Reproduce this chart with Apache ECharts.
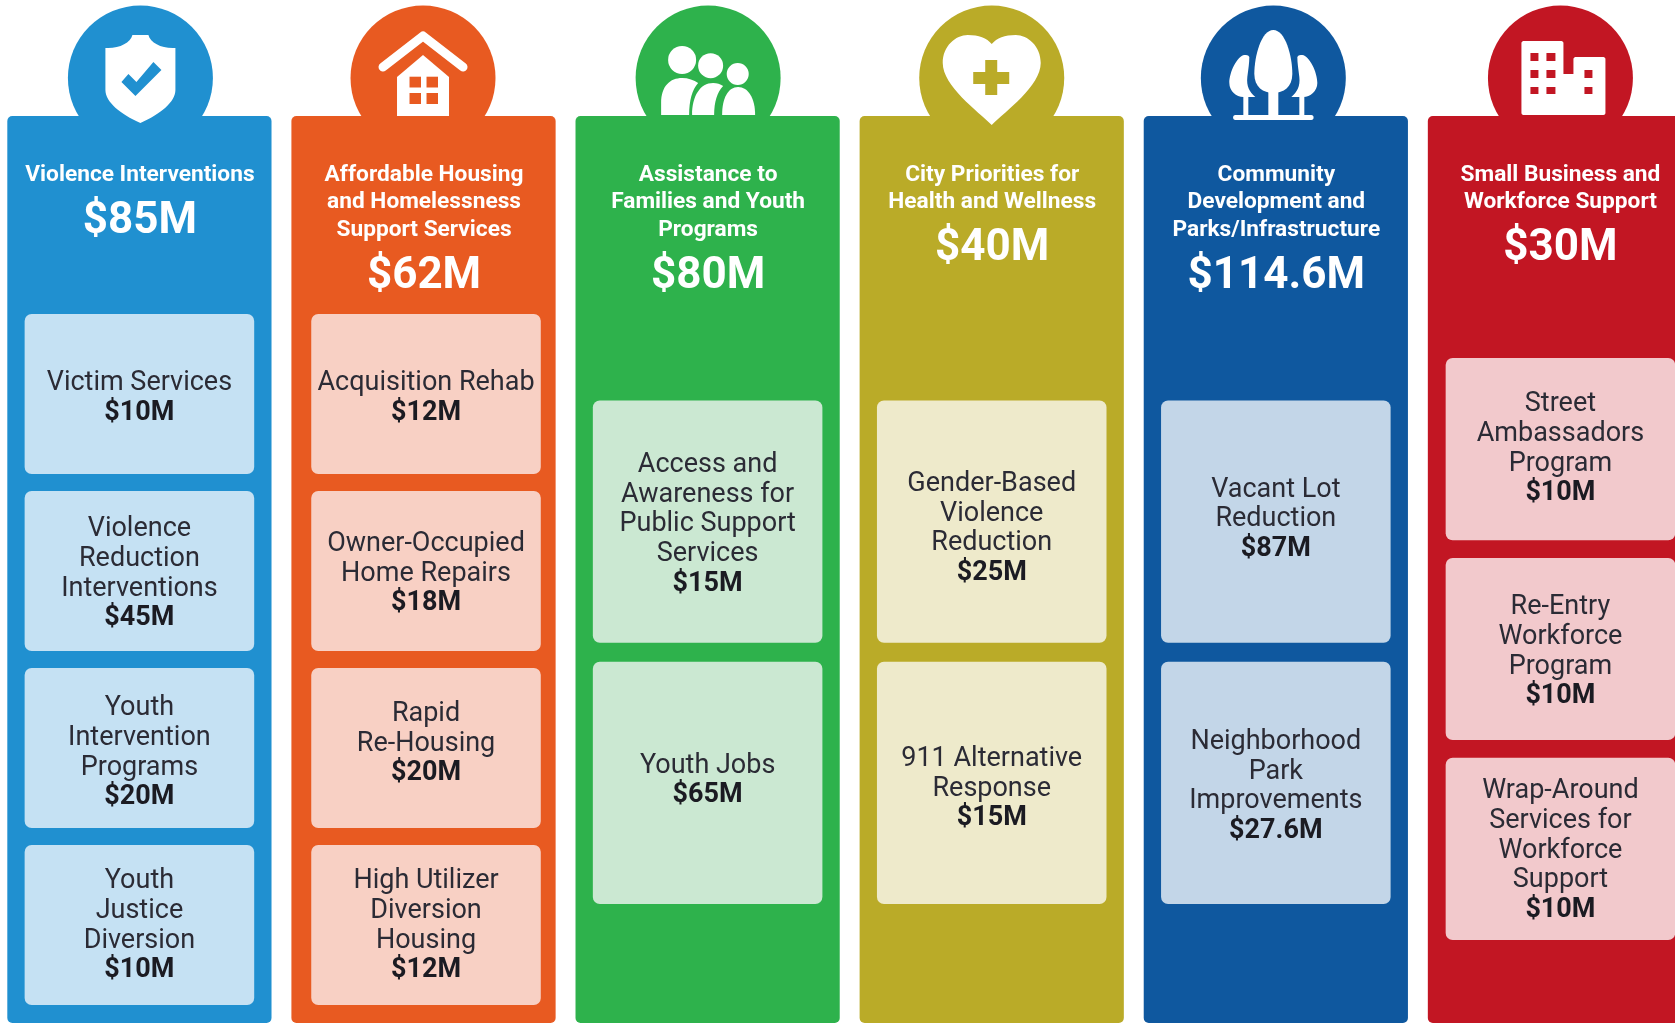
<!DOCTYPE html>
<html>
<head>
<meta charset="utf-8">
<title>Funding by priority area</title>
<script src="https://cdn.jsdelivr.net/npm/echarts@6/dist/echarts.min.js"></script>
<style>
  html, body { margin: 0; padding: 0; background: #fff; }
  #chart { width: 1675px; height: 1024px; }
</style>
</head>
<body>
<div id="chart"></div>
<script>
// data
const categories = [
  "Violence Interventions",
  "Affordable Housing\nand Homelessness\nSupport Services",
  "Assistance to\nFamilies and Youth\nPrograms",
  "City Priorities for\nHealth and Wellness",
  "Community\nDevelopment and\nParks/Infrastructure",
  "Small Business and\nWorkforce Support",
];
const totals = [85, 62, 80, 40, 114.6, 30];

const violenceLabels = ["Victim Services", "Violence\nReduction\nInterventions", "Youth\nIntervention\nPrograms", "Youth\nJustice\nDiversion"];
const violenceValues = [10, 45, 20, 10];
const housingLabels = ["Acquisition Rehab", "Owner-Occupied\nHome Repairs", "Rapid\nRe-Housing", "High Utilizer\nDiversion\nHousing"];
const housingValues = [12, 18, 20, 12];
const familiesLabels = ["Access and\nAwareness for\nPublic Support\nServices", "Youth Jobs"];
const familiesValues = [15, 65];
const healthLabels = ["Gender-Based\nViolence\nReduction", "911 Alternative\nResponse"];
const healthValues = [25, 15];
const communityLabels = ["Vacant Lot\nReduction", "Neighborhood\nPark\nImprovements"];
const communityValues = [87, 27.6];
const businessLabels = ["Street\nAmbassadors\nProgram", "Re-Entry\nWorkforce\nProgram", "Wrap-Around\nServices for\nWorkforce\nSupport"];
const businessValues = [10, 10, 10];

const cardLabels = [violenceLabels, housingLabels, familiesLabels, healthLabels, communityLabels, businessLabels];
const cardValues = [violenceValues, housingValues, familiesValues, healthValues, communityValues, businessValues];

// styles
const panelColors = ["#2090d0", "#e85a21", "#2eb24c", "#baab28", "#0f589f", "#c21623"];
const cardColors = ["#c5e1f3", "#f8d0c4", "#cbe8d2", "#eeeacb", "#c3d6e8", "#f2c9cc"];
const FONT = "Roboto, sans-serif";
const circleNudge = [1, -0.5, 0.5, 0, -2.5, 0.5];
const cardNudge = [0, 2.5, 0, 0, 0, 0.5];
// text in the cards is not quite centred in the original
const cardTextNudge = [[4, 3, 5, 1], [4, 3, -4, 1], [3, -2], [7, 6], [-2, 4], [0, 3, 2]];

// card stack extent on the y axis, by how many cards a column holds
const stacks = {
  2: { top: 400.5, bottom: 904, gap: 19 },
  3: { top: 358, bottom: 940, gap: 17.7 },
  4: { top: 314, bottom: 1005, gap: 17 },
};

// icon parts, drawn around the circle centre. "c" = panel colour, "w" = white
function rect(x0, y0, x1, y1) {
  return `M${x0},${y0}L${x1},${y0}L${x1},${y1}L${x0},${y1}Z`;
}
function dot(x, y, r) {
  return `M${x - r},${y}A${r},${r},0,1,1,${x + r},${y}A${r},${r},0,1,1,${x - r},${y}Z`;
}
const icons = [
  [
    ["w", "M-8,-43L8,-43C10,-35 22,-29 35,-30L35,12C35,24 20,36 0,45C-20,36 -35,24 -35,12L-35,-30C-22,-29 -10,-35 -8,-43Z"],
    ["c", "M-19,4L-12,-4L-4,4L13,-16L21,-8L-5,18Z"],
  ],
  [
    ["line", "M-40,-11L0,-42L40,-11"],
    ["w", "M0,-23L26,-1L26,38L-26,38L-26,-1Z"],
    ["c", rect(-13.5, -1.3, -2, 9.5)],
    ["c", rect(3.5, -1.3, 15, 9.5)],
    ["c", rect(-13.5, 15, -2, 26)],
    ["c", rect(3.5, 15, 15, 26)],
  ],
  [
    ["w", dot(-26, -18, 14)],
    ["w", dot(2.5, -12.3, 12.5)],
    ["w", dot(29.6, -4, 11)],
    ["w", "M-47,37L-47,25C-47,8 -38,0 -26,0C-20,0 -14,2 -10,5C-16,12 -19,22 -19,37Z"],
    ["w", "M-16,37C-16,18 -8,5 5,5C9,5 12,6 15,8C9,14 6,24 6,37Z"],
    ["w", "M14,37C14,20 20,9 30,9C40,9 47,20 47,37Z"],
  ],
  [
    ["w", "M0,47C-14,33 -49,8 -49,-15C-49,-32 -36,-43 -24,-43C-13,-43 -5,-40 0,-34C5,-40 13,-43 24,-43C36,-43 49,-32 49,-15C49,8 14,33 0,47Z"],
    ["c", "M-6.5,-18L5.5,-18L5.5,-6L17.5,-6L17.5,6L5.5,6L5.5,17L-6.5,17L-6.5,6L-18.5,6L-18.5,-6L-6.5,-6Z"],
  ],
  [
    ["w", "M0,-48C12,-48 19,-22 19,-4C19,9 10,15 0,15C-10,15 -19,9 -19,-4C-19,-22 -12,-48 0,-48Z"],
    ["w", "M-29,-23C-36,-22 -44,-6 -44,5C-44,13 -37,19 -30,19L-18,19C-24,14 -27,8 -26,-1C-25,-9 -24,-15 -24,-21C-25,-23 -27,-23 -29,-23Z"],
    ["w", "M29,-23C36,-22 44,-6 44,5C44,13 37,19 30,19L18,19C24,14 27,8 26,-1C25,-9 24,-15 24,-21C25,-23 27,-23 29,-23Z"],
    ["w", rect(-5, 10, 5, 38)],
    ["w", rect(-30, 15, -25, 38)],
    ["w", rect(26, 15, 31, 38)],
    ["w", "M-38,37L38,37C41,37 41,42 38,42L-38,42C-41,42 -41,37 -38,37Z"],
  ],
  [
    ["w", "M-37,-37L1,-37C2,-37 3,-36 3,-35L3,-4L13,-4L13,-19C13,-20 14,-21 15,-21L43,-21C44,-21 45,-20 45,-19L45,35C45,36 44,37 43,37L-37,37C-38,37 -39,36 -39,35L-39,-35C-39,-36 -38,-37 -37,-37Z"],
    ["c", rect(-30, -25, -22, -17)], ["c", rect(-14, -25, -5, -17)],
    ["c", rect(-30, -8, -22, 0)], ["c", rect(-14, -8, -5, 0)],
    ["c", rect(-30, 9, -22, 16)], ["c", rect(-14, 9, -5, 16)],
    ["c", rect(24, -8, 32, 0)], ["c", rect(24, 9, 32, 16)],
  ],
];

const money = (v) => "$" + v + "M";

function textEl(str, x, y, size, weight, fill) {
  return {
    type: "text",
    style: {
      text: str,
      x: x,
      y: y,
      fill: fill,
      font: `${weight} ${size}px ${FONT}`,
      align: "center",
      verticalAlign: "middle",
    },
  };
}

function renderPanel(params, api) {
  const i = api.value(0);
  const cx = api.coord([i, 0])[0];
  const w = api.size([1, 0])[0] * 0.93;
  const top = api.coord([i, 116])[1];
  const bottom = api.coord([i, 1023])[1];
  const color = panelColors[i];
  const ccx = cx + circleNudge[i];
  const ccy = api.coord([i, 78])[1];

  const children = [
    { type: "circle", shape: { cx: ccx, cy: ccy, r: 72.5 }, style: { fill: color } },
    { type: "rect", shape: { x: cx - w / 2, y: top, width: w, height: bottom - top, r: 5 }, style: { fill: color } },
  ];
  icons[i].forEach((part) => {
    const isLine = part[0] === "line";
    children.push({
      type: "path",
      x: ccx,
      y: ccy,
      shape: { pathData: part[1] },
      style: isLine
        ? { fill: "none", stroke: "#fff", lineWidth: 9, lineCap: "round", lineJoin: "round" }
        : { fill: part[0] === "w" ? "#fff" : color },
    });
  });

  const lines = categories[i].split("\n");
  lines.forEach((line, k) => {
    const y = api.coord([i, 175 + 27.6 * k])[1];
    children.push(textEl(line, cx + 0.5, y, 22.7, 700, "#fff"));
  });
  const totalY = api.coord([i, 175 + 27.6 * (lines.length - 1) + 46.5])[1];
  children.push(textEl(money(api.value(1)), cx + 0.5, totalY, 44, 700, "#fff"));
  return { type: "group", children: children };
}

function renderCard(params, api) {
  const i = api.value(0);
  const j = api.value(1);
  const labels = cardLabels[i];
  const stack = stacks[labels.length];
  const h = (stack.bottom - stack.top - stack.gap * (labels.length - 1)) / labels.length;
  const yTop = stack.top + j * (h + stack.gap);
  const cx = api.coord([i, 0])[0] + cardNudge[i];
  const w = api.size([1, 0])[0] * 0.808;
  const y0 = api.coord([i, yTop])[1];
  const y1 = api.coord([i, yTop + h])[1];

  const children = [
    { type: "rect", shape: { x: cx - w / 2, y: y0, width: w, height: y1 - y0, r: 7 }, style: { fill: cardColors[i] } },
  ];
  const lines = labels[j].split("\n");
  const pitch = 29.7;
  const firstY = (y0 + y1) / 2 - (pitch * lines.length) / 2 + cardTextNudge[i][j];
  lines.forEach((line, k) => {
    children.push(textEl(line, cx, firstY + pitch * k, 27, 400, "#2b2b35"));
  });
  children.push(textEl(money(api.value(2)), cx, firstY + pitch * lines.length, 27, 700, "#1b1b22"));
  return { type: "group", children: children };
}

const panelData = totals.map((t, i) => [i, t]);
const cardData = [];
cardValues.forEach((vals, i) => {
  vals.forEach((v, j) => cardData.push([i, j, v]));
});

const chart = echarts.init(document.getElementById("chart"), null, { renderer: "canvas" });
chart.setOption({
  backgroundColor: "#fff",
  animation: false,
  grid: { left: 0, right: 0, top: 0, bottom: 0 },
  // one x unit is one column; the range leaves the last column running off the page
  xAxis: { type: "value", min: -0.4907, max: 5.405, show: false },
  yAxis: { type: "value", min: 0, max: 1024, inverse: true, show: false },
  series: [
    { type: "custom", name: "Programs", data: panelData, renderItem: renderPanel, encode: { x: 0 }, clip: false },
    { type: "custom", name: "Items", data: cardData, renderItem: renderCard, encode: { x: 0 }, clip: false },
  ],
});
</script>
</body>
</html>
